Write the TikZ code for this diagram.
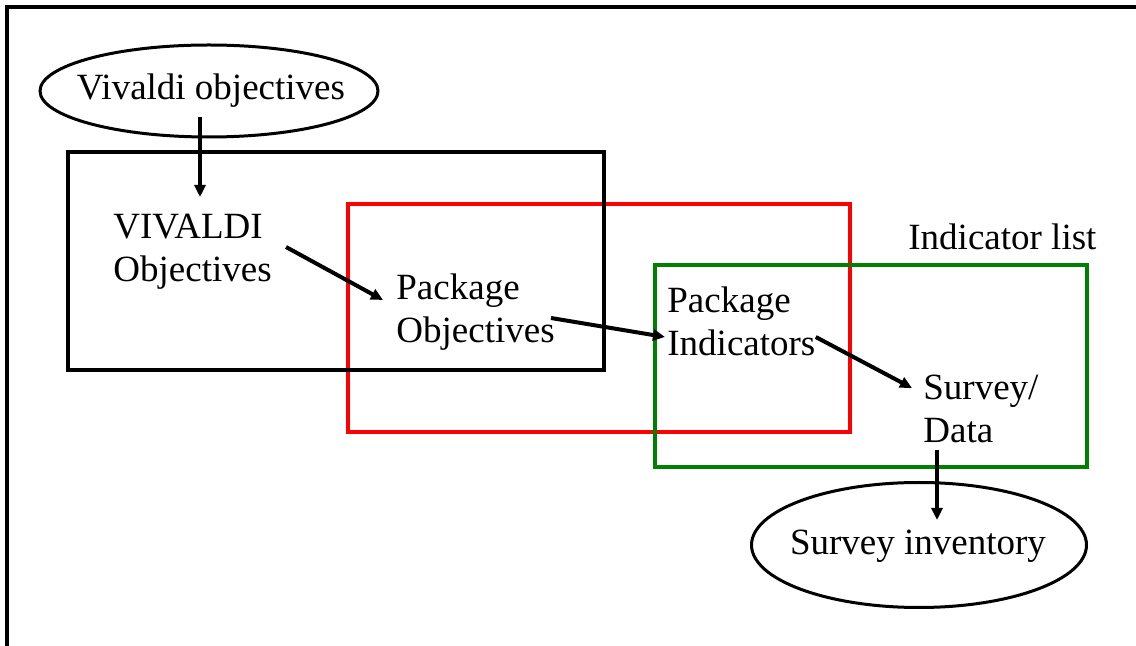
\documentclass[tikz,border=0pt]{standalone}
\usepackage{fontspec}
\setmainfont{Liberation Serif}
\usetikzlibrary{shapes.geometric,arrows.meta,calc}
\definecolor{boxred}{RGB}{255,0,0}
\definecolor{boxgreen}{RGB}{0,128,0}
\begin{document}
\begin{tikzpicture}[x=0.5pt,y=-0.5pt,
  every node/.style={font=\fontsize{18.5}{21.5}\selectfont},
  lbl/.style={anchor=west,inner sep=0pt,align=left},
  ovaltext/.style={inner sep=0pt},
  ovalline/.style={draw,line width=1.5pt},
  frame/.style={line width=2pt},
  arr/.style={line width=2pt,-{Triangle[length=6pt,width=5.5pt]}}]
\useasboundingbox (0,0) rectangle (1136,646);
% outer frame (top and left edges)
\draw[line width=1.6pt] (7,646) -- (7,7) -- (1136,7);
% boxes
\draw[frame,boxred] (348,204) rectangle (850,432);
\draw[frame,boxgreen] (655,265) rectangle (1087,467);
\draw[frame,black] (68,152) rectangle (604,370);
% ellipses
\node[ovaltext] (vo) at (211,91) {Vivaldi objectives};
\draw[ovalline] (209,91) ellipse [x radius=84.5pt, y radius=23pt];
\node[ovaltext] (si) at (918,546) {Survey inventory};
\draw[ovalline] (919,545) ellipse [x radius=83.75pt, y radius=31.25pt];
% labels
\node[lbl] (viv) at (113,252) {VIVALDI\\Objectives};
\node[lbl] (pobj) at (396,312) {Package\\Objectives};
\node[lbl] (pind) at (667,321) {Package\\Indicators};
\node[lbl] (surv) at (923,409) {Survey/\\Data};
\node[lbl] (ilist) at (908,237) {Indicator list};
% arrows
\draw[arr] ([shift={(-11,26)}]vo.center) -- ([shift={(-11,106)}]vo.center);
\draw[arr] ([shift={(14,-5)}]viv.east) -- ([shift={(-13,-12)}]pobj.west);
\draw[arr] ([shift={(-4,6)}]pobj.east) -- ([shift={(-2,16)}]pind.west);
\draw[arr] ([shift={(0,16)}]pind.east) -- ([shift={(-11,-21)}]surv.west);
\draw[arr] ([shift={(19,-96)}]si.center) -- ([shift={(19,-26)}]si.center);
\end{tikzpicture}
\end{document}
